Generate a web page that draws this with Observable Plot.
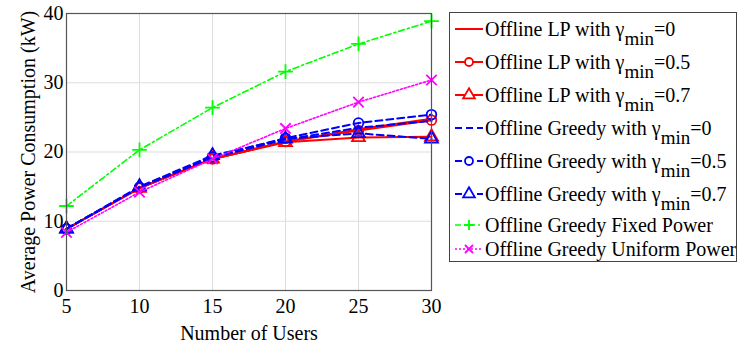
<!DOCTYPE html>
<html><head><meta charset="utf-8">
<script src="https://cdn.jsdelivr.net/npm/d3@7"></script>
<script src="https://cdn.jsdelivr.net/npm/@observablehq/plot@0.6"></script>
<style>
body{margin:0;background:#fff;}
#wrap{position:relative;width:750px;height:347px;font-family:"Liberation Serif","Times New Roman",serif;}
#legend{position:absolute;left:449px;top:12px;width:288px;height:250px;border:1px solid #444;background:#fff;box-sizing:border-box;}
.row{position:absolute;left:3px;display:flex;align-items:center;font-family:"Liberation Serif","Times New Roman",serif;font-size:20px;color:#000;white-space:nowrap;}
.row svg{margin-right:1px;flex:none;}
.row sub{font-size:19px;vertical-align:-9px;line-height:0;}
</style></head>
<body><div id="wrap"><div id="chart"></div><div id="legend"></div></div>
<script>
const users = [5, 10, 15, 20, 25, 30];
const lp0 = [8.9, 14.8, 19.0, 21.5, 23.3, 24.8];
const lp05 = [8.9, 14.8, 19.0, 21.5, 23.1, 24.6];
const lp07 = [8.9, 14.8, 19.0, 21.4, 22.1, 22.2];
const gr0 = [8.9, 14.9, 19.2, 21.8, 23.5, 24.5];
const gr05 = [8.9, 14.9, 19.3, 22.0, 24.2, 25.4];
const gr07 = [8.9, 15.0, 19.5, 21.9, 22.7, 21.9];
const fixedPower = [12.2, 20.3, 26.4, 31.6, 35.6, 38.9];
const uniformPower = [8.4, 14.2, 19.0, 23.4, 27.2, 30.4];
const xTicks = [5, 10, 15, 20, 25, 30];
const yTicks = [0, 10, 20, 30, 40];

const seriesNames = [
  "Offline LP with γmin=0", "Offline LP with γmin=0.5", "Offline LP with γmin=0.7",
  "Offline Greedy with γmin=0", "Offline Greedy with γmin=0.5", "Offline Greedy with γmin=0.7",
  "Offline Greedy Fixed Power", "Offline Greedy Uniform Power"
];
const seriesValues = [lp0, lp05, lp07, gr0, gr05, gr07, fixedPower, uniformPower];
const styles = [
  {stroke: "#ff0000", dash: null, sym: null, w: 2},
  {stroke: "#ff0000", dash: null, sym: "circle", w: 2},
  {stroke: "#ff0000", dash: null, sym: "triangle", w: 2},
  {stroke: "#0000ff", dash: "7,4", sym: null, w: 2},
  {stroke: "#0000ff", dash: "7,4", sym: "circle", w: 2},
  {stroke: "#0000ff", dash: "7,4", sym: "triangle", w: 2},
  {stroke: "#00ff00", dash: "6,3,2,3", sym: "plus", w: 1.6},
  {stroke: "#ff00ff", dash: "2,2", sym: "times", w: 1.6}
];

const marks = [
  Plot.gridX(xTicks, {stroke: "#ddd", strokeOpacity: 1, strokeWidth: 1}),
  Plot.gridY(yTicks, {stroke: "#ddd", strokeOpacity: 1, strokeWidth: 1}),
];
seriesValues.forEach((vals, i) => {
  const st = styles[i];
  const data = users.map((u, j) => ({u, v: vals[j]}));
  marks.push(Plot.line(data, {x: "u", y: "v", stroke: st.stroke, strokeWidth: st.w, strokeDasharray: st.dash || undefined}));
  if (st.sym) {
    marks.push(Plot.dot(data, {x: "u", y: "v", symbol: st.sym, stroke: st.stroke, fill: "none", strokeWidth: 1.8, r: 4.8}));
  }
});
marks.push(
  Plot.frame({stroke: "#555", strokeWidth: 1.2}),
  Plot.axisX(xTicks, {tickSize: 0, tickPadding: 8, label: "Number of Users", labelAnchor: "center", labelArrow: "none", labelOffset: 49, fontSize: 20}),
  Plot.axisY(yTicks, {tickSize: 0, tickPadding: 3, label: "Average Power Consumption (kW)", labelAnchor: "center", labelArrow: "none", labelOffset: 46, fontSize: 20})
);

const chart = Plot.plot({
  width: 750, height: 347,
  marginLeft: 66, marginRight: 319, marginTop: 13, marginBottom: 57,
  x: {type: "linear", domain: [5, 30]},
  y: {type: "linear", domain: [0, 40]},
  style: {fontFamily: "Liberation Serif", fontSize: "20px", color: "#000", background: "#fff"},
  marks
});
document.getElementById("chart").appendChild(chart);

// legend
const rowY = [29, 62, 95, 128, 161, 194, 225, 249];
const legend = d3.select("#legend");
seriesNames.forEach((name, i) => {
  const st = styles[i];
  const row = legend.append("div").attr("class", "row").style("top", (rowY[i] - 12 - 13) + "px").style("height", "24px");
  const svg = row.append("svg").attr("width", 31).attr("height", 20);
  svg.append("line").attr("x1", 2).attr("x2", 30).attr("y1", 10).attr("y2", 10)
    .attr("stroke", st.stroke).attr("stroke-width", st.w).attr("stroke-dasharray", st.dash);
  if (st.sym) {
    let path;
    if (st.sym === "plus") path = "M-5,0H5M0,-5V5";
    else if (st.sym === "times") path = "M-4,-4L4,4M-4,4L4,-4";
    else path = d3.symbol(st.sym === "circle" ? d3.symbolCircle : d3.symbolTriangle, st.sym === "circle" ? 50 : 60)();
    svg.append("path").attr("d", path).attr("transform", "translate(16,10)")
      .attr("fill", st.sym === "circle" || st.sym === "triangle" ? "#fff" : "none").attr("stroke", st.stroke).attr("stroke-width", 1.8);
  }
  const t = row.append("span");
  const m = name.match(/^(.*)γmin(.*)$/);
  if (m) t.html(m[1] + "γ<sub>min</sub>" + m[2]);
  else t.text(name);
});
</script>
</body></html>
